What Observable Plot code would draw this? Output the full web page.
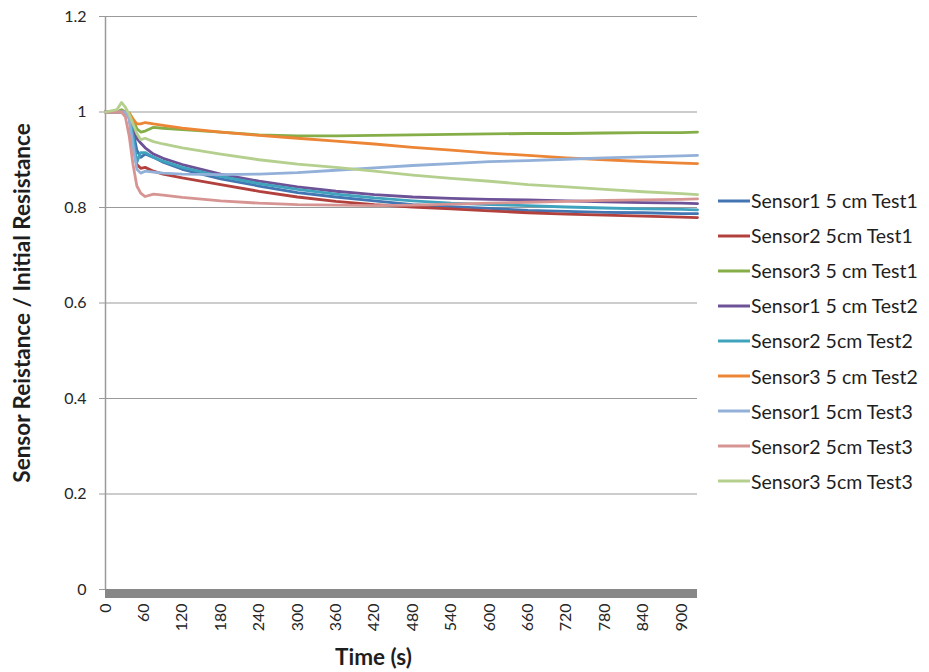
<!DOCTYPE html>
<html>
<head>
<meta charset="utf-8">
<script src="https://cdn.jsdelivr.net/npm/d3@7"></script>
<script src="https://cdn.jsdelivr.net/npm/@observablehq/plot@0.6"></script>
<style>
  html, body { margin: 0; padding: 0; background: #fff; }
  #wrap { position: relative; width: 929px; height: 672px; font-family: Lato, "Open Sans", sans-serif; }
  #legend { position: absolute; left: 718px; top: 183px; }
  .item { display: flex; align-items: center; height: 35.1px; font-size: 19.5px; color: #1e1e1e; white-space: nowrap; }
  .item svg { margin-right: 1px; }
</style>
</head>
<body>
<div id="wrap"></div>
<script>
const times = [0, 18, 25, 31, 37, 43, 49, 55, 62, 75, 90, 120, 180, 240, 300, 360, 420, 480, 540, 600, 660, 720, 780, 840, 900, 925];

const seriesNames = [
  "Sensor1 5 cm Test1", "Sensor2 5cm Test1", "Sensor3 5 cm Test1",
  "Sensor1 5 cm Test2", "Sensor2 5cm Test2", "Sensor3 5 cm Test2",
  "Sensor1 5cm Test3", "Sensor2 5cm Test3", "Sensor3 5cm Test3"
];
const seriesColors = ["#4275B2", "#B2403D", "#86AE48", "#6E5297", "#3FA3BE", "#EC8636", "#93B0D9", "#D69593", "#B5D08E"];

const s1t1 = [1.0, 1.0, 1.0, 1.0, 0.995, 0.96, 0.92, 0.905, 0.912, 0.905, 0.895, 0.88, 0.86, 0.845, 0.831, 0.822, 0.814, 0.806, 0.802, 0.798, 0.794, 0.792, 0.790, 0.789, 0.787, 0.787];
const s2t1 = [1.0, 1.0, 1.0, 1.0, 0.99, 0.93, 0.89, 0.882, 0.884, 0.876, 0.87, 0.862, 0.848, 0.834, 0.822, 0.813, 0.806, 0.801, 0.797, 0.793, 0.789, 0.786, 0.784, 0.782, 0.780, 0.779];
const s3t1 = [1.0, 1.0, 1.005, 1.0, 0.998, 0.985, 0.965, 0.958, 0.96, 0.968, 0.966, 0.963, 0.958, 0.952, 0.950, 0.950, 0.951, 0.952, 0.953, 0.954, 0.955, 0.955, 0.956, 0.957, 0.957, 0.958];
const s1t2 = [1.0, 1.0, 1.0, 1.0, 0.995, 0.97, 0.945, 0.935, 0.925, 0.912, 0.903, 0.89, 0.87, 0.855, 0.843, 0.834, 0.827, 0.822, 0.819, 0.817, 0.816, 0.814, 0.812, 0.81, 0.809, 0.808];
const s2t2 = [1.0, 1.0, 1.0, 1.0, 0.995, 0.95, 0.895, 0.915, 0.915, 0.905, 0.897, 0.884, 0.865, 0.85, 0.838, 0.828, 0.82, 0.814, 0.809, 0.806, 0.804, 0.801, 0.799, 0.797, 0.796, 0.795];
const s3t2 = [1.0, 1.0, 1.0, 1.0, 0.998, 0.985, 0.975, 0.975, 0.978, 0.975, 0.972, 0.966, 0.958, 0.951, 0.945, 0.939, 0.933, 0.926, 0.92, 0.914, 0.909, 0.904, 0.9, 0.896, 0.893, 0.892];
const s1t3 = [1.0, 1.0, 1.0, 1.0, 0.985, 0.93, 0.88, 0.872, 0.876, 0.874, 0.872, 0.870, 0.869, 0.870, 0.873, 0.878, 0.883, 0.888, 0.892, 0.896, 0.898, 0.901, 0.904, 0.906, 0.908, 0.909];
const s2t3 = [1.0, 1.0, 1.0, 0.99, 0.95, 0.89, 0.845, 0.83, 0.823, 0.828, 0.826, 0.821, 0.814, 0.809, 0.806, 0.805, 0.804, 0.805, 0.807, 0.809, 0.811, 0.813, 0.815, 0.816, 0.817, 0.818];
const s3t3 = [1.0, 1.005, 1.02, 1.01, 0.995, 0.975, 0.955, 0.942, 0.945, 0.938, 0.933, 0.925, 0.912, 0.9, 0.891, 0.884, 0.876, 0.868, 0.861, 0.855, 0.848, 0.843, 0.838, 0.833, 0.829, 0.827];

const seriesValues = [s1t1, s2t1, s3t1, s1t2, s2t2, s3t2, s1t3, s2t3, s3t3];

const xTicks = [0, 60, 120, 180, 240, 300, 360, 420, 480, 540, 600, 660, 720, 780, 840, 900];
const yTicks = [0, 0.2, 0.4, 0.6, 0.8, 1, 1.2];

const yTitle = "Sensor Reistance / Initial Resistance";
const xTitle = "Time (s)";

const lineMarks = seriesValues.map((vals, i) =>
  Plot.line(times.map((t, j) => ({t, v: vals[j]})), {
    x: "t", y: "v", stroke: seriesColors[i], strokeWidth: 2.8, strokeLinejoin: "round"
  })
);

const chart = Plot.plot({
  width: 929,
  height: 672,
  marginLeft: 105,
  marginRight: 232,
  marginTop: 16,
  marginBottom: 83,
  style: {fontFamily: "Lato, 'Open Sans', sans-serif", fontSize: "15px", color: "#262626", background: "#fff"},
  x: {domain: [0, 925], label: null},
  y: {domain: [0, 1.2], label: null},
  marks: [
    Plot.gridY(yTicks, {stroke: "#9a9a9a", strokeOpacity: 1, strokeWidth: 1.2}),
    Plot.ruleX([0], {stroke: "#9a9a9a", strokeWidth: 1.5}),
    Plot.axisY(yTicks, {tickSize: 6, tickPadding: 13, stroke: "#9a9a9a", tickFormat: d => String(d), fontSize: 16, fill: "#262626", label: null}),
    Plot.axisX(xTicks, {tickSize: 0, tickPadding: 14, tickRotate: -90, fontSize: 16, fill: "#262626", label: null}),
    ...lineMarks,
    Plot.ruleY([0], {stroke: "#878787", strokeWidth: 9, dy: 4}),
    Plot.text([yTitle], {frameAnchor: "left", dx: -83, rotate: -90, textAnchor: "middle", lineAnchor: "middle", fontWeight: "bold", fontSize: 22.5, fill: "#1e1e1e"}),
    Plot.text([xTitle], {frameAnchor: "bottom", dx: -28, dy: 68, textAnchor: "middle", lineAnchor: "middle", fontWeight: "bold", fontSize: 22.5, fill: "#1e1e1e"})
  ]
});

const wrap = document.getElementById("wrap");
wrap.appendChild(chart);

const legend = document.createElement("div");
legend.id = "legend";
seriesNames.forEach((name, i) => {
  const item = document.createElement("div");
  item.className = "item";
  item.innerHTML = `<svg width="32" height="6"><line x1="0" y1="3" x2="32" y2="3" stroke="${seriesColors[i]}" stroke-width="3"/></svg><span>${name}</span>`;
  legend.appendChild(item);
});
wrap.appendChild(legend);
</script>
</body>
</html>
